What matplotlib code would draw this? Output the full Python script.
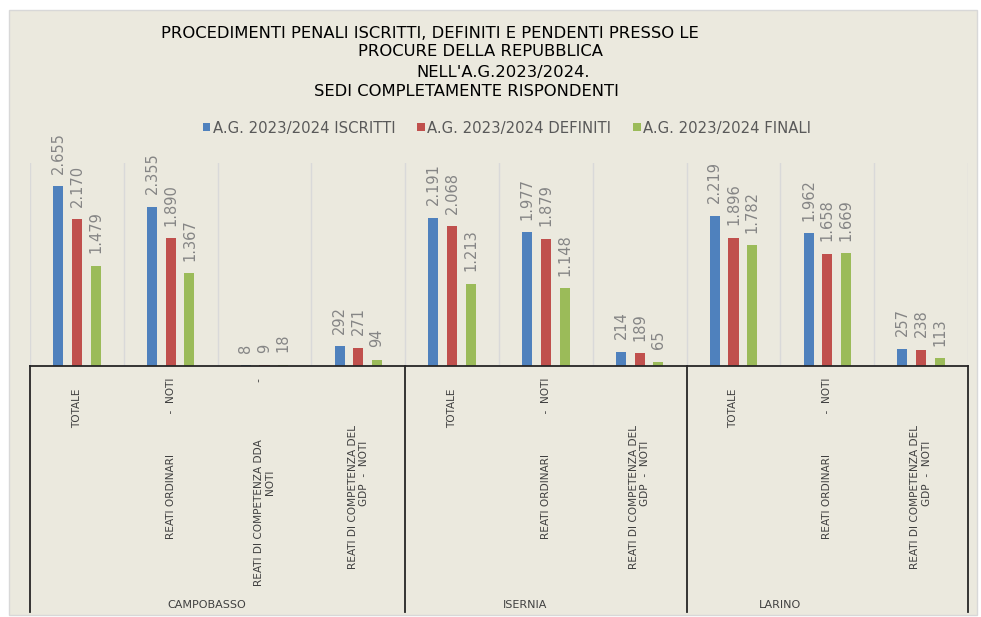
import matplotlib
matplotlib.use("Agg")
import matplotlib.pyplot as plt
import matplotlib.transforms as mtransforms
from matplotlib.patches import Rectangle, Patch
from matplotlib.lines import Line2D

# data
categories = [
    "TOTALE   ",
    "REATI ORDINARI            -  NOTI",
    "REATI DI COMPETENZA DDA                 -\nNOTI",
    "REATI DI COMPETENZA DEL              \nGDP  -  NOTI",
    "TOTALE   ",
    "REATI ORDINARI            -  NOTI",
    "REATI DI COMPETENZA DEL              \nGDP  -  NOTI",
    "TOTALE   ",
    "REATI ORDINARI            -  NOTI",
    "REATI DI COMPETENZA DEL              \nGDP  -  NOTI",
]
groups = ["CAMPOBASSO", "ISERNIA", "LARINO"]
group_sizes = [4, 3, 3]
series_names = ["A.G. 2023/2024 ISCRITTI", "A.G. 2023/2024 DEFINITI", "A.G. 2023/2024 FINALI"]
iscritti = [2655, 2355, 8, 292, 2191, 1977, 214, 2219, 1962, 257]
definiti = [2170, 1890, 9, 271, 2068, 1879, 189, 1896, 1658, 238]
finali = [1479, 1367, 18, 94, 1213, 1148, 65, 1782, 1669, 113]
title_lines = [
    "PROCEDIMENTI PENALI ISCRITTI, DEFINITI E PENDENTI PRESSO LE",
    "PROCURE DELLA REPUBBLICA",
    "NELL'A.G.2023/2024.",
    "SEDI COMPLETAMENTE RISPONDENTI",
]

# layout
colors = ["#4F81BD", "#C0504D", "#9BBB59"]
bg = "#EBE9DE"
W, H = 981, 617
title_x = [430, 481, 503, 466]
title_y = [33, 52, 72, 91]
group_label_x = [1.38, 4.78, 7.50]

fig = plt.figure(figsize=(W / 100, H / 100), dpi=100, facecolor="white")
fig.patches.append(Rectangle((9 / W, 1 - 615 / H), 968 / W, 605 / H,
                             transform=fig.transFigure, facecolor=bg,
                             edgecolor="#D8D8D8", lw=1, zorder=-10))

ax = fig.add_axes([30 / W, 1 - 366 / H, 938 / W, 203 / H])
ax.set_facecolor("none")
n = len(iscritti)
x = list(range(n))
width = 0.107
offsets = [-0.2, 0.0, 0.2]
for vals, off, col in zip([iscritti, definiti, finali], offsets, colors):
    xs = [i + off for i in x]
    ax.bar(xs, vals, width=width, color=col, zorder=3)
    for xi, v in zip(xs, vals):
        ax.annotate(f"{v:,}".replace(",", "."), (xi, v), xytext=(0, 9),
                    textcoords="offset points", rotation=90, ha="center",
                    va="bottom", fontsize=10.5, color="#858585")

ax.set_xlim(-0.5, n - 0.5)
ax.set_ylim(0, 3000)
for b in range(n + 1):
    ax.axvline(b - 0.5, color="#D9D9D9", lw=1, zorder=1)
for s in ax.spines.values():
    s.set_visible(False)
ax.set_xticks([])
ax.set_yticks([])
ax.axhline(0, color="#262626", lw=1.3, zorder=4, clip_on=False)

# category axis below
trans = mtransforms.blended_transform_factory(ax.transData, fig.transFigure)
edges = [-0.5]
for g in group_sizes:
    edges.append(edges[-1] + g)
for e in edges:
    fig.add_artist(Line2D([e, e], [1 - 366 / H, 1 - 612 / H], transform=trans,
                          color="#262626", lw=1.3))
for i, lab in enumerate(categories):
    ax.text(i, 1 - 378 / H, lab, transform=trans, rotation=90, ha="center",
            va="top", multialignment="center", fontsize=7.6, color="#404040")
for gx, g in zip(group_label_x, groups):
    ax.text(gx, 1 - 605 / H, g, transform=trans, ha="center", va="center",
            fontsize=8, color="#404040")

# title
for t, tx, ty in zip(title_lines, title_x, title_y):
    fig.text(tx / W, 1 - ty / H, t, ha="center", va="center", fontsize=11.8,
             color="black")

handles = [Patch(facecolor=c) for c in colors]
leg = fig.legend(handles, series_names, loc="center", ncol=3,
                 bbox_to_anchor=(507 / W, 1 - 128 / H), frameon=False,
                 handlelength=0.5, handleheight=0.5, handletextpad=0.15,
                 columnspacing=1.5, prop={"size": 10.7})
for t in leg.get_texts():
    t.set_color("#595959")

fig.savefig("out.png", dpi=100, facecolor="white")
plt.close(fig)
